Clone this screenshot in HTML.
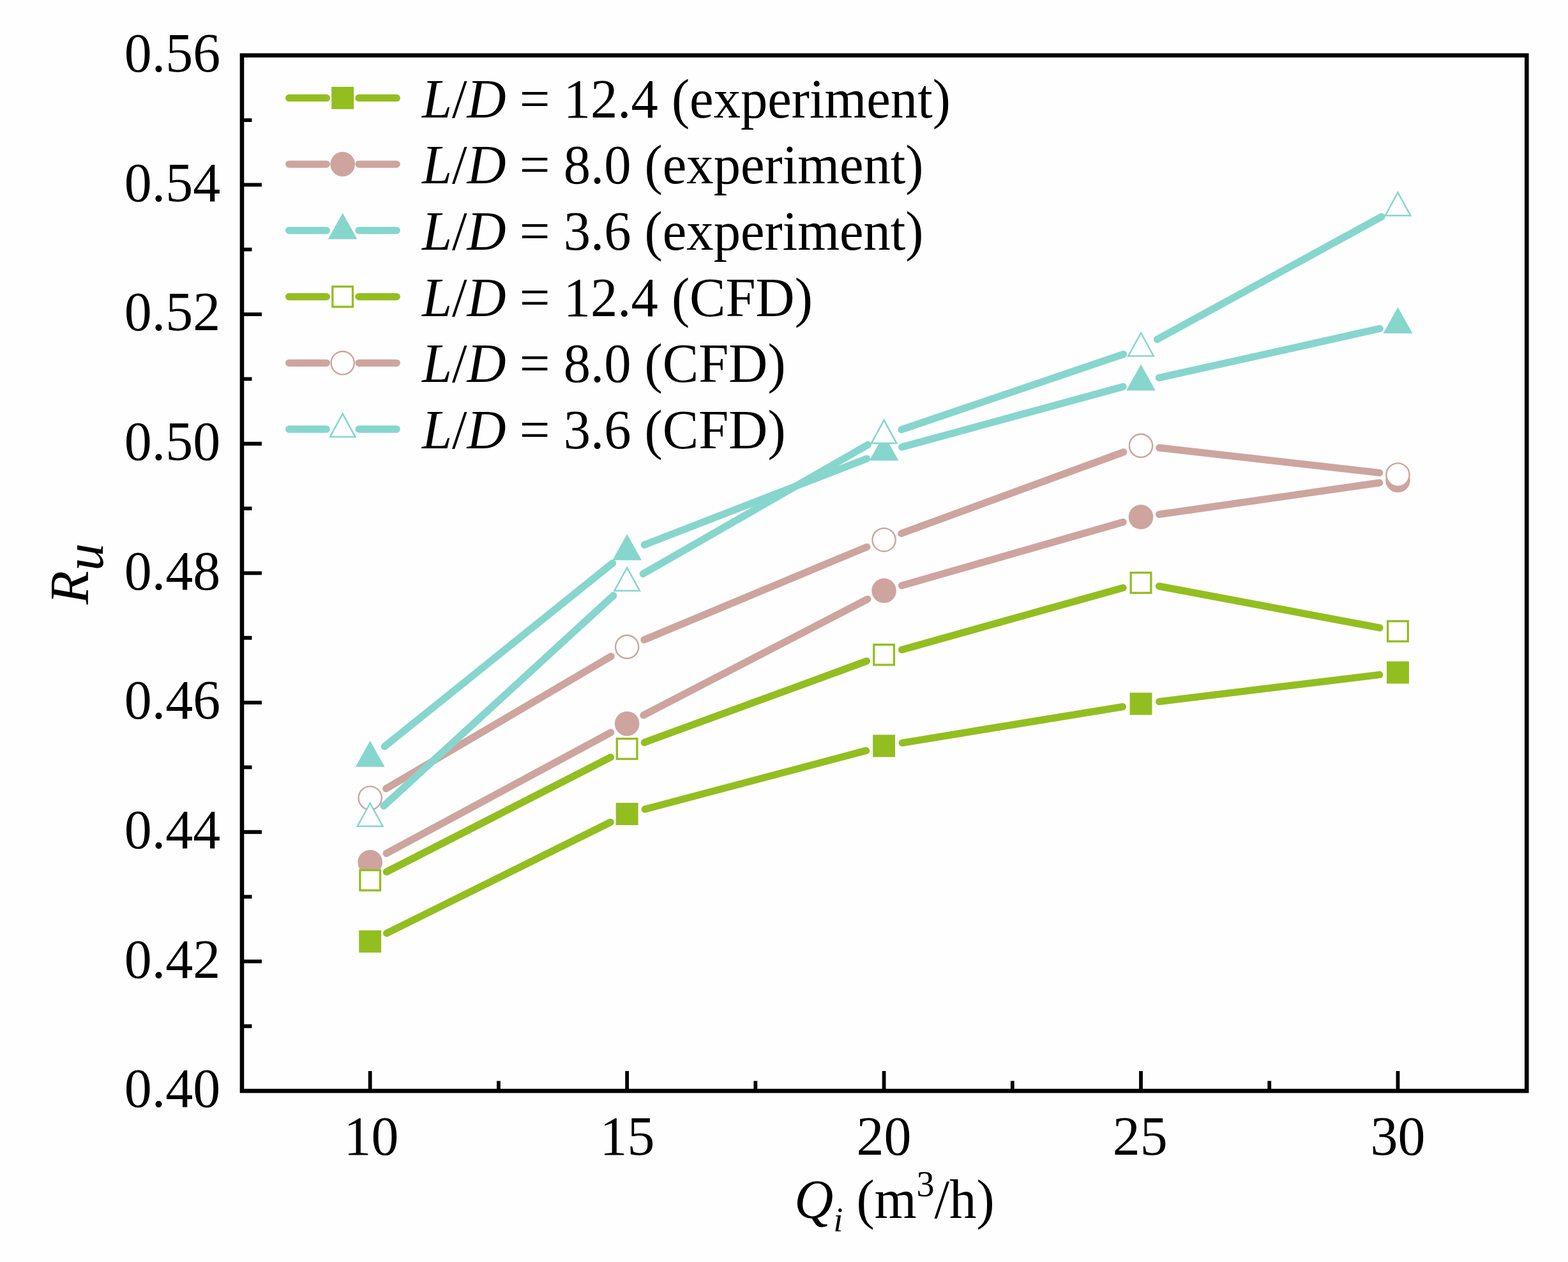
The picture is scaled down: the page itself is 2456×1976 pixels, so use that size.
<!DOCTYPE html>
<html><head><meta charset="utf-8"><title>R_u vs Q_i</title>
<style>html,body{margin:0;padding:0;background:#fefefe;width:2456px;height:1976px;overflow:hidden}</style>
</head><body>
<svg width="2456" height="1976" viewBox="0 0 2456 1976" style="position:absolute;left:0;top:0">
<rect x="0" y="0" width="2456" height="1976" fill="#fefefe"/>
<path d="M379.00,1606.76H394.50 M379.00,1505.42H410.00 M379.00,1404.09H394.50 M379.00,1302.75H410.00 M379.00,1201.41H394.50 M379.00,1100.07H410.00 M379.00,998.74H394.50 M379.00,897.40H410.00 M379.00,796.06H394.50 M379.00,694.73H410.00 M379.00,593.39H394.50 M379.00,492.05H410.00 M379.00,390.71H394.50 M379.00,289.37H410.00 M379.00,188.04H394.50 M579.70,1708.10V1677.10 M780.93,1708.10V1692.60 M982.15,1708.10V1677.10 M1183.38,1708.10V1692.60 M1384.60,1708.10V1677.10 M1585.82,1708.10V1692.60 M1787.05,1708.10V1677.10 M1988.27,1708.10V1692.60 M2189.50,1708.10V1677.10" stroke="#000" stroke-width="5.8" fill="none"/>
<path d="M605.68,1461.21L956.17,1287.39 M1010.18,1267.07L1356.57,1175.33 M1413.22,1163.21L1758.43,1106.69 M1815.84,1098.50L2160.71,1056.50" stroke="#93be20" stroke-width="11.3" stroke-linecap="round" fill="none"/>
<rect x="562.25" y="1456.65" width="34.90" height="34.90" fill="#93be20"/>
<rect x="964.70" y="1257.05" width="34.90" height="34.90" fill="#93be20"/>
<rect x="1367.15" y="1150.45" width="34.90" height="34.90" fill="#93be20"/>
<rect x="1769.60" y="1084.55" width="34.90" height="34.90" fill="#93be20"/>
<rect x="2172.05" y="1035.55" width="34.90" height="34.90" fill="#93be20"/>
<path d="M605.23,1336.25L956.62,1146.95 M1007.90,1119.86L1358.85,938.14 M1412.48,916.81L1759.17,817.49 M1815.76,805.38L2160.79,755.92" stroke="#cda59e" stroke-width="11.3" stroke-linecap="round" fill="none"/>
<circle cx="579.70" cy="1350.00" r="19.30" fill="#cda59e"/>
<circle cx="982.15" cy="1133.20" r="19.30" fill="#cda59e"/>
<circle cx="1384.60" cy="924.80" r="19.30" fill="#cda59e"/>
<circle cx="1787.05" cy="809.50" r="19.30" fill="#cda59e"/>
<circle cx="2189.50" cy="751.80" r="19.30" fill="#cda59e"/>
<path d="M602.31,1168.83L959.54,881.77 M1009.19,853.12L1357.56,718.18 M1412.58,700.07L1759.07,605.53 M1815.36,591.60L2161.19,514.60" stroke="#86d6ce" stroke-width="11.3" stroke-linecap="round" fill="none"/>
<polygon points="579.70,1159.67 556.80,1200.67 602.60,1200.67" fill="#86d6ce" stroke-linejoin="miter" stroke-miterlimit="10"/>
<polygon points="982.15,836.27 959.25,877.27 1005.05,877.27" fill="#86d6ce" stroke-linejoin="miter" stroke-miterlimit="10"/>
<polygon points="1384.60,680.37 1361.70,721.37 1407.50,721.37" fill="#86d6ce" stroke-linejoin="miter" stroke-miterlimit="10"/>
<polygon points="1787.05,570.57 1764.15,611.57 1809.95,611.57" fill="#86d6ce" stroke-linejoin="miter" stroke-miterlimit="10"/>
<polygon points="2189.50,480.97 2166.60,521.97 2212.40,521.97" fill="#86d6ce" stroke-linejoin="miter" stroke-miterlimit="10"/>
<path d="M605.52,1365.10L956.33,1185.70 M1009.38,1162.53L1357.37,1035.17 M1412.53,1017.38L1759.12,920.32 M1815.55,917.87L2161.00,983.03" stroke="#93be20" stroke-width="11.3" stroke-linecap="round" fill="none"/>
<rect x="563.90" y="1362.50" width="31.60" height="31.60" fill="#ffffff" stroke="#93be20" stroke-width="3.3"/>
<rect x="966.35" y="1156.70" width="31.60" height="31.60" fill="#ffffff" stroke="#93be20" stroke-width="3.3"/>
<rect x="1368.80" y="1009.40" width="31.60" height="31.60" fill="#ffffff" stroke="#93be20" stroke-width="3.3"/>
<rect x="1771.25" y="896.70" width="31.60" height="31.60" fill="#ffffff" stroke="#93be20" stroke-width="3.3"/>
<rect x="2173.70" y="972.60" width="31.60" height="31.60" fill="#ffffff" stroke="#93be20" stroke-width="3.3"/>
<path d="M604.70,1234.80L957.15,1027.60 M1008.92,1001.75L1357.83,856.35 M1411.83,835.23L1759.82,707.87 M1815.87,701.16L2160.68,740.24" stroke="#cda59e" stroke-width="11.3" stroke-linecap="round" fill="none"/>
<circle cx="579.70" cy="1249.50" r="18.10" fill="#ffffff" stroke="#cda59e" stroke-width="2.4"/>
<circle cx="982.15" cy="1012.90" r="18.10" fill="#ffffff" stroke="#cda59e" stroke-width="2.4"/>
<circle cx="1384.60" cy="845.20" r="18.10" fill="#ffffff" stroke="#cda59e" stroke-width="2.4"/>
<circle cx="1787.05" cy="697.90" r="18.10" fill="#ffffff" stroke="#cda59e" stroke-width="2.4"/>
<circle cx="2189.50" cy="743.50" r="18.10" fill="#ffffff" stroke="#cda59e" stroke-width="2.4"/>
<path d="M601.08,1262.01L960.77,932.49 M1007.30,898.47L1359.45,696.43 M1412.06,672.67L1759.59,554.63 M1812.50,531.39L2164.05,339.31" stroke="#86d6ce" stroke-width="11.3" stroke-linecap="round" fill="none"/>
<polygon points="579.70,1257.54 559.91,1293.68 599.49,1293.68" fill="#ffffff" stroke="#86d6ce" stroke-width="2.5" stroke-linejoin="miter" stroke-miterlimit="10"/>
<polygon points="982.15,888.84 962.36,924.98 1001.94,924.98" fill="#ffffff" stroke="#86d6ce" stroke-width="2.5" stroke-linejoin="miter" stroke-miterlimit="10"/>
<polygon points="1384.60,657.94 1364.81,694.08 1404.39,694.08" fill="#ffffff" stroke="#86d6ce" stroke-width="2.5" stroke-linejoin="miter" stroke-miterlimit="10"/>
<polygon points="1787.05,521.24 1767.26,557.38 1806.84,557.38" fill="#ffffff" stroke="#86d6ce" stroke-width="2.5" stroke-linejoin="miter" stroke-miterlimit="10"/>
<polygon points="2189.50,301.34 2169.71,337.48 2209.29,337.48" fill="#ffffff" stroke="#86d6ce" stroke-width="2.5" stroke-linejoin="miter" stroke-miterlimit="10"/>
<rect x="379.00" y="86.70" width="2012.30" height="1621.40" fill="none" stroke="#000" stroke-width="6.6"/>
<text x="345.3" y="1733.30" text-anchor="end" font-size="86" font-family='"Liberation Serif", serif'>0.40</text>
<text x="345.3" y="1530.62" text-anchor="end" font-size="86" font-family='"Liberation Serif", serif'>0.42</text>
<text x="345.3" y="1327.95" text-anchor="end" font-size="86" font-family='"Liberation Serif", serif'>0.44</text>
<text x="345.3" y="1125.27" text-anchor="end" font-size="86" font-family='"Liberation Serif", serif'>0.46</text>
<text x="345.3" y="922.60" text-anchor="end" font-size="86" font-family='"Liberation Serif", serif'>0.48</text>
<text x="345.3" y="719.93" text-anchor="end" font-size="86" font-family='"Liberation Serif", serif'>0.50</text>
<text x="345.3" y="517.25" text-anchor="end" font-size="86" font-family='"Liberation Serif", serif'>0.52</text>
<text x="345.3" y="314.57" text-anchor="end" font-size="86" font-family='"Liberation Serif", serif'>0.54</text>
<text x="345.3" y="111.90" text-anchor="end" font-size="86" font-family='"Liberation Serif", serif'>0.56</text>
<text x="581.40" y="1808.3" text-anchor="middle" font-size="86" font-family='"Liberation Serif", serif'>10</text>
<text x="982.55" y="1808.3" text-anchor="middle" font-size="86" font-family='"Liberation Serif", serif'>15</text>
<text x="1384.50" y="1808.3" text-anchor="middle" font-size="86" font-family='"Liberation Serif", serif'>20</text>
<text x="1785.85" y="1808.3" text-anchor="middle" font-size="86" font-family='"Liberation Serif", serif'>25</text>
<text x="2189.50" y="1808.3" text-anchor="middle" font-size="86" font-family='"Liberation Serif", serif'>30</text>
<text transform="translate(1401,1906.7) scale(0.985,1)" text-anchor="middle" font-size="86" font-family='"Liberation Serif", serif'><tspan font-style="italic">Q</tspan><tspan font-style="italic" font-size="54" dy="21">i</tspan><tspan dy="-21"> (m</tspan><tspan font-size="57" dy="-34">3</tspan><tspan dy="34">/h)</tspan></text>
<text transform="translate(138.2,898.5) rotate(-90)" text-anchor="middle" font-size="86" font-family='"Liberation Serif", serif' font-style="italic">R<tspan dy="23">u</tspan></text>
<path d="M452.65,153.40H511.35M562.05,153.40H621.25" stroke="#93be20" stroke-width="11.3" stroke-linecap="round" fill="none"/>
<rect x="519.25" y="135.95" width="34.90" height="34.90" fill="#93be20"/>
<text transform="translate(661,183.60) scale(0.984,1)" font-size="86" font-family='"Liberation Serif", serif'><tspan font-style="italic">L</tspan>/<tspan font-style="italic">D</tspan> = 12.4 (experiment)</text>
<path d="M452.65,257.12H511.35M562.05,257.12H621.25" stroke="#cda59e" stroke-width="11.3" stroke-linecap="round" fill="none"/>
<circle cx="536.70" cy="257.12" r="19.30" fill="#cda59e"/>
<text transform="translate(661,287.32) scale(0.984,1)" font-size="86" font-family='"Liberation Serif", serif'><tspan font-style="italic">L</tspan>/<tspan font-style="italic">D</tspan> = 8.0 (experiment)</text>
<path d="M452.65,360.84H511.35M562.05,360.84H621.25" stroke="#86d6ce" stroke-width="11.3" stroke-linecap="round" fill="none"/>
<polygon points="536.70,333.51 513.80,374.51 559.60,374.51" fill="#86d6ce" stroke-linejoin="miter" stroke-miterlimit="10"/>
<text transform="translate(661,391.04) scale(0.984,1)" font-size="86" font-family='"Liberation Serif", serif'><tspan font-style="italic">L</tspan>/<tspan font-style="italic">D</tspan> = 3.6 (experiment)</text>
<path d="M452.65,464.56H511.35M562.05,464.56H621.25" stroke="#93be20" stroke-width="11.3" stroke-linecap="round" fill="none"/>
<rect x="520.90" y="448.76" width="31.60" height="31.60" fill="#ffffff" stroke="#93be20" stroke-width="3.3"/>
<text transform="translate(661,494.76) scale(0.984,1)" font-size="86" font-family='"Liberation Serif", serif'><tspan font-style="italic">L</tspan>/<tspan font-style="italic">D</tspan> = 12.4 (CFD)</text>
<path d="M452.65,568.28H511.35M562.05,568.28H621.25" stroke="#cda59e" stroke-width="11.3" stroke-linecap="round" fill="none"/>
<circle cx="536.70" cy="568.28" r="18.10" fill="#ffffff" stroke="#cda59e" stroke-width="2.4"/>
<text transform="translate(661,598.48) scale(0.984,1)" font-size="86" font-family='"Liberation Serif", serif'><tspan font-style="italic">L</tspan>/<tspan font-style="italic">D</tspan> = 8.0 (CFD)</text>
<path d="M452.65,672.00H511.35M562.05,672.00H621.25" stroke="#86d6ce" stroke-width="11.3" stroke-linecap="round" fill="none"/>
<polygon points="536.70,647.94 516.91,684.08 556.49,684.08" fill="#ffffff" stroke="#86d6ce" stroke-width="2.5" stroke-linejoin="miter" stroke-miterlimit="10"/>
<text transform="translate(661,702.20) scale(0.984,1)" font-size="86" font-family='"Liberation Serif", serif'><tspan font-style="italic">L</tspan>/<tspan font-style="italic">D</tspan> = 3.6 (CFD)</text>
</svg>
</body></html>
